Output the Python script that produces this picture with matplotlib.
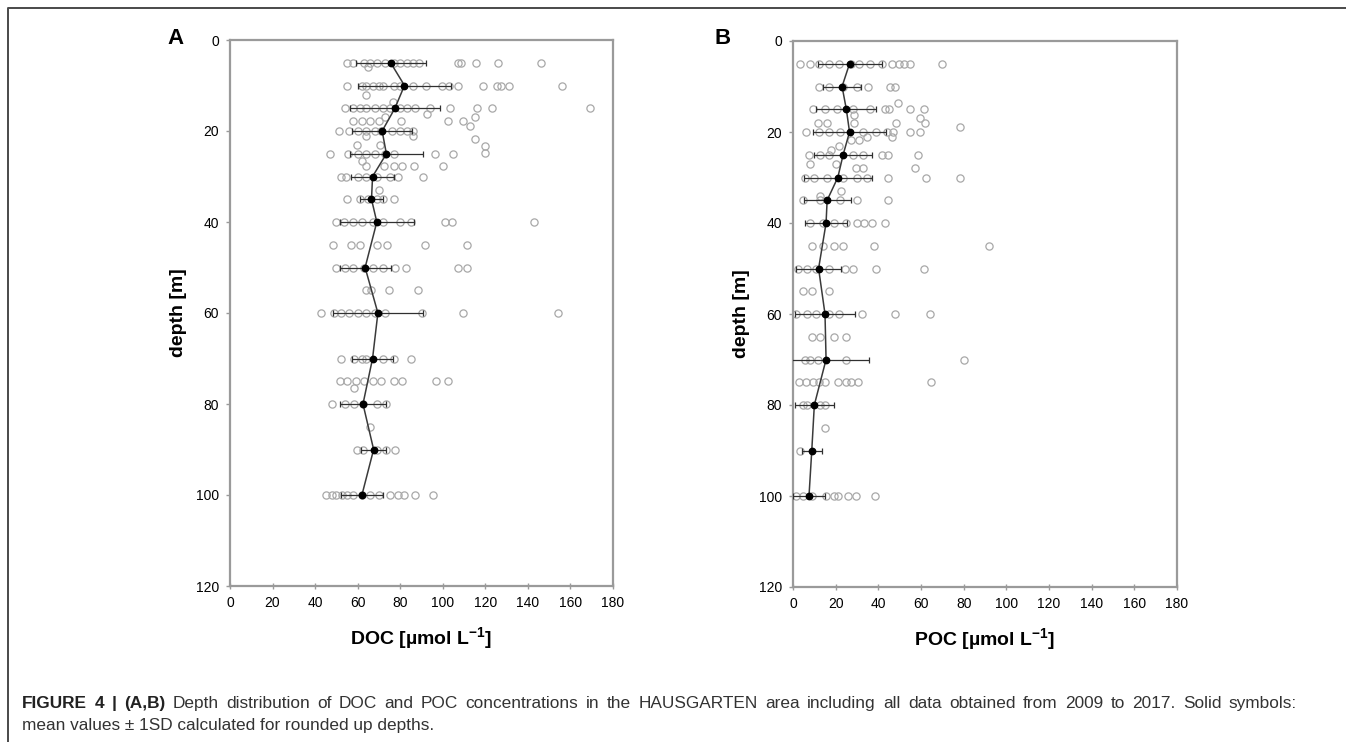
import numpy as np
import matplotlib
matplotlib.use("Agg")
import matplotlib.pyplot as plt
from matplotlib.lines import Line2D

plt.rcParams['font.family'] = ['Liberation Sans', 'DejaVu Sans']
plt.rcParams['mathtext.fontset'] = 'custom'
plt.rcParams['mathtext.rm'] = 'Liberation Sans'
plt.rcParams['mathtext.bf'] = 'Liberation Sans:bold'

# individual DOC samples, grouped by sampling depth [m] -> concentrations
doc_samples = {
    5: [55, 58, 63, 66, 69, 73, 77, 80, 83, 86, 89, 107, 108.5, 115.5, 126, 146],
    6: [65],
    10: [55, 62, 64, 67, 70, 72, 77, 80, 86, 92, 99.5, 103, 107, 119, 125.5, 127.5, 131, 156],
    12: [64],
    13.7: [76.5],
    15: [54, 58, 61, 64, 68, 72, 75, 80, 83, 87, 94, 103.5, 116, 123, 169],
    16.3: [92.5],
    17: [73, 115],
    17.8: [58, 62, 66, 70, 80.5, 102.5, 109.5],
    18.8: [113],
    20: [51, 56, 60, 64, 68, 71, 76, 80, 83, 86],
    21: [64, 86],
    21.8: [115],
    23: [59.5, 70.5],
    23.4: [120],
    24.8: [120],
    25: [47, 55.5, 60, 64, 68, 73, 77, 96.5, 105],
    26.7: [62],
    27.8: [64, 72.5, 77, 81, 86.5, 100],
    30: [52, 54.5, 60, 64, 69, 75, 79, 90.5],
    33: [70],
    35: [55, 61, 65, 69, 72, 77],
    40: [50, 53.5, 58, 62, 67, 72, 80, 85, 101, 104.5, 143],
    45: [48.5, 57, 61, 69, 74, 91.5, 111.5],
    50: [50, 54, 58, 63, 67, 72, 77.5, 82.5, 107, 111.5],
    55: [64, 66.5, 74.5, 88.5],
    60: [43, 49, 52, 56, 60, 64, 68, 73, 90, 109.5, 154],
    70: [52, 58.5, 62, 64, 72, 77, 85],
    75: [51.5, 55, 59, 63, 67, 71, 77, 81, 97, 102.5],
    76.5: [58.5],
    80: [48, 54, 58.5, 62.5, 69, 73.5],
    85: [66],
    90: [59.5, 62.5, 69, 73.5, 77.5],
    100: [45, 48, 50, 52.5, 55, 58, 62, 66, 70, 75, 79, 82, 87, 95.5],
}

# individual POC samples
poc_samples = {
    5: [3.3, 8, 12, 17, 21.5, 27, 31, 36, 41.5, 46.5, 49.5, 52, 55, 70],
    10: [12.3, 17, 23.5, 30, 35, 45.5, 48],
    13.6: [49],
    15: [9.2, 15, 20.5, 28, 36, 43, 45, 55, 61.5],
    16.3: [28.5],
    17: [59.5],
    18: [11.5, 16, 28.5, 48.5, 62],
    18.8: [78.5],
    20: [6, 12, 17, 22, 33, 39, 44, 47, 55, 59.5],
    21: [46.5, 34.8],
    21.8: [27, 31],
    23: [21.5],
    24: [18],
    25: [7.5, 12.5, 17, 28, 33, 41.5, 44.5, 58.5],
    27: [8, 20],
    28: [29.5, 33, 57],
    30: [5.5, 10, 16, 23.5, 30, 34.5, 44.5, 62.5, 78.5],
    33: [22.5],
    34: [12.5],
    35: [4.5, 12.5, 22, 30, 44.5],
    40: [8, 14, 19, 25, 30, 33.5, 37, 43],
    45: [9, 14, 19, 23.5, 38, 92],
    50: [2.5, 6.5, 11, 17, 24.5, 28, 39, 61.5],
    55: [4.5, 9, 17],
    60: [1.5, 6.5, 11, 17, 21.5, 32.5, 48, 64],
    65: [9, 12.5, 19, 25],
    70: [5.5, 8, 11.5, 25, 80],
    75: [3, 6, 9.5, 12, 15, 21, 25, 27, 30.5, 64.5],
    80: [4.5, 6.5, 12.5, 15],
    85: [15],
    90: [3.3],
    100: [1.5, 4.5, 9, 15.5, 19, 21, 26, 29.5, 38.5],
}

# mean +/- 1SD for rounded depths
mean_depths = [5, 10, 15, 20, 25, 30, 35, 40, 50, 60, 70, 80, 90, 100]
doc_mean = [75.5, 82, 77.5, 71.5, 73.5, 67, 66.5, 69, 63.5, 69.5, 67, 62.5, 67.5, 62]
doc_sd = [16.5, 22, 21, 14, 17, 10, 5.5, 17.5, 12, 21, 9.5, 11, 6, 10]
poc_mean = [26.5, 23, 25, 26.5, 23.5, 21, 16, 15.5, 12, 15, 15.5, 10, 8.8, 7.5]
poc_sd = [15, 9, 14, 17, 13.5, 16, 11, 10, 10.5, 14, 20, 9, 4.8, 7.5]

x_ticks = np.arange(0, 181, 20)
y_ticks = np.arange(0, 121, 20)

caption_bold = 'FIGURE 4 | (A,B)'
caption_line1 = ('Depth distribution of DOC and POC concentrations in the HAUSGARTEN area '
                 'including all data obtained from 2009 to 2017. Solid symbols:')
caption_line2 = 'mean values ± 1SD calculated for rounded up depths.'

W, H = 1346, 742
fig = plt.figure(figsize=(W / 100, H / 100), dpi=100)

axA = fig.add_axes([230 / W, 1 - 586 / H, 383 / W, 546 / H])
axB = fig.add_axes([793 / W, 1 - 587 / H, 384 / W, 546 / H])


def draw_panel(ax, samples, mean, sd, xlabel):
    for d, vals in samples.items():
        ax.plot(vals, [d] * len(vals), 'o', ms=5.2, mfc='none', mec='#a8a8a8',
                mew=0.9, zorder=2)
    ax.errorbar(mean, mean_depths, xerr=sd, fmt='none', ecolor='#303030',
                elinewidth=0.9, capsize=2.5, capthick=0.9, zorder=3)
    ax.plot(mean, mean_depths, '-', color='#3a3a3a', lw=1.1, zorder=4)
    ax.plot(mean, mean_depths, 'o', color='black', ms=4.6, zorder=5)

    ax.set_xlim(0, 180)
    ax.set_ylim(120, 0)
    ax.set_xticks(x_ticks)
    ax.set_yticks(y_ticks)
    for s in ax.spines.values():
        s.set_color('#9a9a9a')
        s.set_linewidth(1.6)
    ax.tick_params(axis='x', direction='inout', length=4, width=1, color='#9a9a9a',
                   labelsize=10, pad=5)
    ax.tick_params(axis='y', direction='out', length=3, width=1, color='#9a9a9a',
                   labelsize=10, pad=5)
    ax.set_xlabel(xlabel, fontsize=14, fontweight='bold')
    ax.xaxis.set_label_coords(0.5, -0.072)
    ax.set_ylabel('depth [m]', fontsize=14, fontweight='bold')
    ax.yaxis.set_label_coords(-0.112, 0.5)


draw_panel(axA, doc_samples, doc_mean, doc_sd, r'DOC [µmol L$^{\mathbf{-1}}$]')
draw_panel(axB, poc_samples, poc_mean, poc_sd, r'POC [µmol L$^{\mathbf{-1}}$]')

fig.text(176 / W, 1 - 38 / H, 'A', fontsize=16, fontweight='bold', ha='center', va='center')
fig.text(723 / W, 1 - 38 / H, 'B', fontsize=16, fontweight='bold', ha='center', va='center')

# frame around the figure
fig.add_artist(Line2D([8 / W, 8 / W, 1], [0, 1 - 8 / H, 1 - 8 / H],
                      transform=fig.transFigure, color='#4a4a4a', lw=1.4))

# caption, first line justified between x0 and x1 (pixels)
cap_size = 12.4
x0, x1 = 22, 1297
words = [(w, 'bold') for w in caption_bold.split()] + \
        [(w, 'normal') for w in caption_line1.split()]
renderer = fig.canvas.get_renderer()
texts = []
for w, weight in words:
    t = fig.text(0, 1 - 708 / H, w, fontsize=cap_size, fontweight=weight,
                 color='#222222' if weight == 'bold' else '#333333', va='baseline')
    texts.append(t)
widths = [t.get_window_extent(renderer).width for t in texts]
gap = (x1 - x0 - sum(widths)) / (len(texts) - 1)
x = x0
for t, w in zip(texts, widths):
    t.set_x(x / W)
    x += w + gap
fig.text(x0 / W, 1 - 730 / H, caption_line2, fontsize=cap_size, color='#333333',
         va='baseline')

fig.savefig('out.png', dpi=100)
